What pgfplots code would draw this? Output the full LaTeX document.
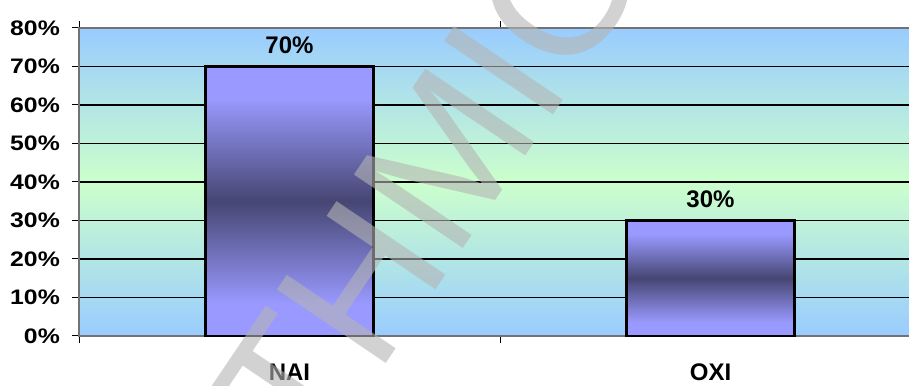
\documentclass[border=0pt]{standalone}
\usepackage{fontspec}
\setmainfont{Liberation Sans}
\newfontfamily\tickfont[FakeStretch=1.18]{Liberation Sans}
\usepackage{pgfplots}
\pgfplotsset{compat=1.18}

\definecolor{bgBlue}{HTML}{99CCFF}
\definecolor{bgGreen}{HTML}{CCFFCC}
\definecolor{barLight}{HTML}{9999FF}
\definecolor{barDark}{HTML}{464673}
\definecolor{wmGray}{HTML}{B4B4B4}

% light at both ends, dark in the middle of each bar
\pgfdeclareverticalshading{barshade}{100bp}{%
  color(0bp)=(barLight); color(31bp)=(barLight);
  color(50bp)=(barDark);
  color(69bp)=(barLight); color(100bp)=(barLight)}

\begin{document}
\begin{tikzpicture}[x=1pt,y=1pt]
\begin{axis}[
  at={(79pt,49pt)}, anchor=south west,
  scale only axis,
  width=842pt, height=308pt,
  xmin=-0.5, xmax=1.5,
  ymin=0, ymax=80,
  ytick={0,10,...,80},
  yticklabel={\pgfmathprintnumber{\tick}\%},
  /pgf/number format/assume math mode=true,
  yticklabel style={font=\tickfont\bfseries\fontsize{21}{21}\selectfont,
    anchor=east, inner sep=0pt, xshift=-12pt},
  xtick={-0.5,0.5,1.5},
  xticklabels={},
  extra x ticks={0,1},
  extra x tick labels={NAI,OXI},
  extra x tick style={major tick length=0pt,
    tick label style={font=\bfseries\fontsize{24}{24}\selectfont,
      anchor=base, inner sep=0pt, yshift=-44pt}},
  tick align=outside,
  major tick length=7pt,
  tick style={black, line width=1pt},
  ymajorgrids,
  major grid style={black, line width=1.1pt},
  axis line style={draw=black!55, line width=1.8pt},
  axis background/.style={shade, top color=bgBlue, bottom color=bgBlue, middle color=bgGreen},
  ybar, bar width=0.4, bar shift=0pt,
  nodes near coords={\pgfmathprintnumber{\pgfplotspointmeta}\%},
  every node near coord/.append style={font=\bfseries\fontsize{24}{24}\selectfont,
    anchor=base, inner sep=0pt, yshift=12.5pt, black},
  clip=false,
]
% one plot per bar, so each bar gets its own shading
\addplot[draw=black, line width=2.5pt, shade, shading=barshade]
  coordinates {(0,70)};
\addplot[draw=black, line width=2.5pt, shade, shading=barshade]
  coordinates {(1,30)};
\end{axis}
% watermark across the chart
\node[rotate=56, anchor=base west, inner sep=0pt, text=wmGray, opacity=0.6,
  font=\fontsize{191}{191}\selectfont] at (312,-88) {THMIO};
\pgfresetboundingbox
\useasboundingbox (0,0) rectangle (909,385);
\end{tikzpicture}
\end{document}
